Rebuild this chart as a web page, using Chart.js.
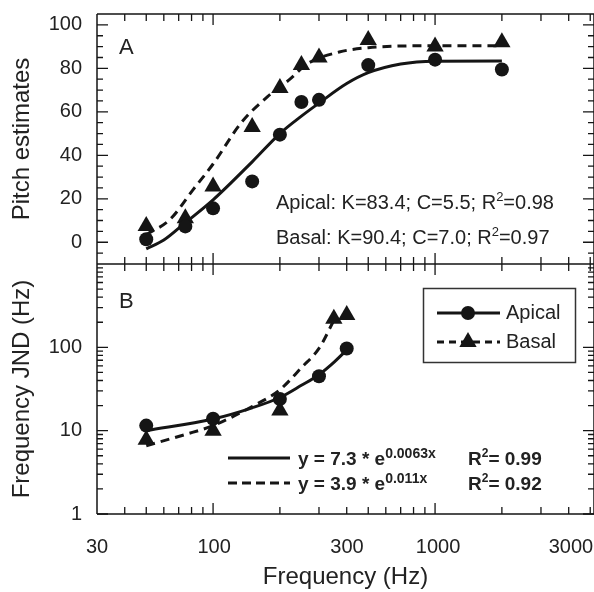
<!DOCTYPE html>
<html>
<head>
<meta charset="utf-8">
<script src="https://cdn.jsdelivr.net/npm/chart.js@4.4.1/dist/chart.umd.min.js"></script>
<style>
  html, body { margin: 0; padding: 0; background: #fff; }
  #c { display: block; }
</style>
</head>
<body>
<canvas id="c" width="594" height="592"></canvas>
<script>
// ---- data ----
// panel A: pitch estimates
var freqA = [50, 75, 100, 150, 200, 250, 300, 500, 1000, 2000];
var apicalA = [1.4, 7.3, 15.6, 28, 49.5, 64.5, 65.5, 81.5, 84, 79.5];
var basalA = [7.5, 11, 25.7, 53, 71, 81.5, 85, 93, 90, 92];
// fitted curves
var apicalFitAx = [50, 60, 75, 100, 150, 200, 250, 300, 400, 500, 700, 1000, 2000];
var apicalFitAy = [-3, 1, 9, 19.5, 37, 50, 58, 64, 73, 78, 82, 83.3, 83.4];
var basalFitAx = [50, 64, 81, 100, 134, 176, 222, 265, 370, 500, 1000, 2000];
var basalFitAy = [3.5, 10.5, 24, 36, 55, 67, 75, 82, 87.5, 89.5, 90.4, 90.4];

// panel B: frequency JND
var apicalBx = [50, 100, 200, 300, 400];
var apicalB = [11.5, 13.9, 24, 45, 97];
var basalBx = [50, 100, 200, 350, 400];
var basalB = [7.8, 10, 17.5, 221, 245];
var apicalFitBx = [50, 100, 150, 200, 250, 300, 350, 400];
var apicalFitBy = [10, 13.8, 18.8, 25, 35, 47, 66, 93];
var basalFitBx = [50, 75, 100, 150, 200, 250, 300, 350];
var basalFitBy = [6.6, 9, 11.5, 19.5, 31, 57, 97, 210];

// axes
var xTickValues = [30, 100, 300, 1000, 3000];
var xTickLabels = ['30', '100', '300', '1000', '3000'];
var xMajor = [100, 1000];
var xMinor = [40, 50, 60, 70, 80, 90, 200, 300, 400, 500, 600, 700, 800, 900, 2000, 3000, 4000, 5000];
var yATicks = [0, 20, 40, 60, 80, 100];
var yAMinor = [-5, 5, 10, 15, 25, 30, 35, 45, 50, 55, 65, 70, 75, 85, 90, 95];
var yBTicks = [1, 10, 100];
var yBMinor = [2, 3, 4, 5, 6, 7, 8, 9, 20, 30, 40, 50, 60, 70, 80, 90, 200, 300, 400, 500, 600, 700, 800, 900];

// styles
var INK = '#151515';
var TXT = '#222';
var FONT = '"Liberation Sans", Arial, sans-serif';
var xLabelShift = [0, 1, 28, 3, 30]; // label placement as printed in the figure

function pts(xs, ys) {
  var out = [];
  for (var i = 0; i < xs.length; i++) out.push({x: xs[i], y: ys[i]});
  return out;
}

function drawRich(ctx, parts, x, y) {
  for (var i = 0; i < parts.length; i++) {
    var p = parts[i];
    ctx.font = (p.bold ? 'bold ' : '') + p.size + 'px ' + FONT;
    if (p.x !== undefined) x = p.x;
    ctx.fillText(p.t, x, y + (p.dy || 0));
    x += ctx.measureText(p.t).width;
  }
}

var framePlugin = {
  id: 'frame',
  afterDraw: function (chart) {
    var ctx = chart.ctx;
    var sx = chart.scales.x, yA = chart.scales.yA, yB = chart.scales.yB;
    var L = chart.chartArea.left, R = chart.chartArea.right;
    var T = yA.top, M = yA.bottom, B = yB.bottom;
    ctx.save();
    ctx.strokeStyle = INK;
    ctx.lineWidth = 1.5;
    ctx.beginPath();
    ctx.moveTo(L, T); ctx.lineTo(R, T);
    ctx.moveTo(L, M); ctx.lineTo(R, M);
    ctx.moveTo(L, B); ctx.lineTo(R, B);
    ctx.moveTo(L, T); ctx.lineTo(L, B);
    ctx.moveTo(R, T); ctx.lineTo(R, B);
    ctx.stroke();

    // x ticks on every horizontal edge, pointing inward
    ctx.lineWidth = 1.3;
    ctx.beginPath();
    function xt(v, len) {
      var px = sx.getPixelForValue(v);
      ctx.moveTo(px, T); ctx.lineTo(px, T + len);
      ctx.moveTo(px, M); ctx.lineTo(px, M - len);
      ctx.moveTo(px, M); ctx.lineTo(px, M + len);
      ctx.moveTo(px, B); ctx.lineTo(px, B - len);
    }
    xMajor.forEach(function (v) { xt(v, 11); });
    xMinor.forEach(function (v) { xt(v, 7); });
    function yt(scale, v, len) {
      var py = scale.getPixelForValue(v);
      ctx.moveTo(L, py); ctx.lineTo(L + len, py);
      ctx.moveTo(R, py); ctx.lineTo(R - len, py);
    }
    yATicks.forEach(function (v) { yt(yA, v, 11); });
    yAMinor.forEach(function (v) { yt(yA, v, 6); });
    yBTicks.forEach(function (v) { yt(yB, v, 11); });
    yBMinor.forEach(function (v) { yt(yB, v, 6); });
    ctx.stroke();

    // x tick labels
    ctx.fillStyle = TXT;
    ctx.font = '20px ' + FONT;
    ctx.textAlign = 'center';
    ctx.textBaseline = 'middle';
    for (var i = 0; i < xTickValues.length; i++) {
      ctx.fillText(xTickLabels[i], sx.getPixelForValue(xTickValues[i]) + xLabelShift[i], 547);
    }

    // panel letters
    ctx.textAlign = 'left';
    ctx.textBaseline = 'alphabetic';
    ctx.font = '22px ' + FONT;
    ctx.fillText('A', 119, 54);
    ctx.fillText('B', 119, 308);

    // panel A fit parameters
    drawRich(ctx, [{t: 'Apical: K=83.4; C=5.5; R', size: 20}, {t: '2', size: 13, dy: -8}, {t: '=0.98', size: 20}], 276, 209);
    drawRich(ctx, [{t: 'Basal: K=90.4; C=7.0; R', size: 20}, {t: '2', size: 13, dy: -8}, {t: '=0.97', size: 20}], 276, 244);

    // panel B fit equations
    ctx.strokeStyle = INK;
    ctx.lineWidth = 3;
    ctx.beginPath(); ctx.moveTo(228, 458); ctx.lineTo(290, 458); ctx.stroke();
    ctx.setLineDash([9, 5]);
    ctx.beginPath(); ctx.moveTo(228, 483); ctx.lineTo(290, 483); ctx.stroke();
    ctx.setLineDash([]);
    drawRich(ctx, [{t: 'y = 7.3 * e', size: 19, bold: true}, {t: '0.0063x', size: 14, bold: true, dy: -7},
      {t: 'R', size: 19, bold: true, x: 468}, {t: '2', size: 12, bold: true, dy: -8}, {t: '= 0.99', size: 19, bold: true}], 298, 465);
    drawRich(ctx, [{t: 'y = 3.9 * e', size: 19, bold: true}, {t: '0.011x', size: 14, bold: true, dy: -7},
      {t: 'R', size: 19, bold: true, x: 468}, {t: '2', size: 12, bold: true, dy: -8}, {t: '= 0.92', size: 19, bold: true}], 298, 490);

    // legend box
    ctx.lineWidth = 1.5;
    ctx.strokeStyle = '#333';
    ctx.strokeRect(423.5, 288.5, 152, 74);
    ctx.strokeStyle = INK;
    ctx.fillStyle = INK;
    ctx.lineWidth = 3;
    ctx.beginPath(); ctx.moveTo(437, 313); ctx.lineTo(500, 313); ctx.stroke();
    ctx.beginPath(); ctx.arc(468, 313, 7, 0, Math.PI * 2); ctx.fill();
    ctx.setLineDash([7, 5]);
    ctx.beginPath(); ctx.moveTo(437, 342); ctx.lineTo(500, 342); ctx.stroke();
    ctx.setLineDash([]);
    var r = 10, cx = 468, cy = 342;
    ctx.beginPath();
    ctx.moveTo(cx, cy - r);
    ctx.lineTo(cx + r * 0.866, cy + r / 2);
    ctx.lineTo(cx - r * 0.866, cy + r / 2);
    ctx.closePath(); ctx.fill();
    ctx.fillStyle = TXT;
    ctx.font = '20px ' + FONT;
    ctx.textBaseline = 'middle';
    ctx.fillText('Apical', 506, 313);
    ctx.fillText('Basal', 506, 342);
    ctx.restore();
  }
};

function pointSet(data, axis, style, radius) {
  return {data: data, yAxisID: axis, showLine: false, pointStyle: style, pointRadius: radius,
    pointBackgroundColor: INK, pointBorderColor: INK, pointBorderWidth: 0};
}
function fitSet(data, axis, dash) {
  return {data: data, yAxisID: axis, showLine: true, pointRadius: 0, borderColor: INK, borderWidth: 3,
    borderDash: dash, cubicInterpolationMode: 'monotone', fill: false};
}

// fixed axis box: no extra room for half-height tick labels
function fixY(s) { s.width = 97; s.paddingTop = 0; s.paddingBottom = 0; }

var ctx = document.getElementById('c').getContext('2d');
var chart = new Chart(ctx, {
  type: 'scatter',
  data: {
    datasets: [
      pointSet(pts(freqA, apicalA), 'yA', 'circle', 7),
      pointSet(pts(freqA, basalA), 'yA', 'triangle', 10),
      pointSet(pts(apicalBx, apicalB), 'yB', 'circle', 7),
      pointSet(pts(basalBx, basalB), 'yB', 'triangle', 10),
      fitSet(pts(apicalFitAx, apicalFitAy), 'yA', []),
      fitSet(pts(basalFitAx, basalFitAy), 'yA', [9, 6]),
      fitSet(pts(apicalFitBx, apicalFitBy), 'yB', []),
      fitSet(pts(basalFitBx, basalFitBy), 'yB', [9, 6])
    ]
  },
  options: {
    responsive: false,
    animation: false,
    devicePixelRatio: 1,
    layout: {autoPadding: false, padding: {top: 14, right: 0, left: 0, bottom: 0}},
    plugins: {legend: {display: false}, tooltip: {enabled: false}},
    scales: {
      x: {
        type: 'logarithmic', min: 30, max: 5200, position: 'bottom',
        grid: {display: false, drawTicks: false}, border: {display: false},
        ticks: {display: false},
        afterFit: function (s) { s.height = 78; s.paddingLeft = 0; s.paddingRight = 0; },
        title: {display: true, text: 'Frequency (Hz)', color: TXT, font: {family: FONT, size: 24}, padding: {top: 0, bottom: 0}}
      },
      // listed first so that it sits below panel A in the stack
      yB: {
        type: 'logarithmic', min: 1, max: 1000, position: 'left', stack: 'panels', stackWeight: 1,
        grid: {display: false, drawTicks: false}, border: {display: false},
        afterBuildTicks: function (s) { s.ticks = yBTicks.map(function (v) { return {value: v}; }); },
        ticks: {color: TXT, font: {family: FONT, size: 20}, padding: 15, callback: function (v) { return String(v); }},
        afterFit: fixY,
        title: {display: true, text: 'Frequency JND (Hz)', color: TXT, font: {family: FONT, size: 24}, padding: {top: 8, bottom: 0}}
      },
      yA: {
        type: 'linear', min: -10, max: 105, position: 'left', stack: 'panels', stackWeight: 1,
        grid: {display: false, drawTicks: false}, border: {display: false},
        afterBuildTicks: function (s) { s.ticks = yATicks.map(function (v) { return {value: v}; }); },
        ticks: {color: TXT, font: {family: FONT, size: 20}, padding: 15},
        afterFit: fixY,
        title: {display: true, text: 'Pitch estimates', color: TXT, font: {family: FONT, size: 24}, padding: {top: 8, bottom: 0}}
      }
    }
  },
  plugins: [framePlugin]
});
</script>
</body>
</html>
